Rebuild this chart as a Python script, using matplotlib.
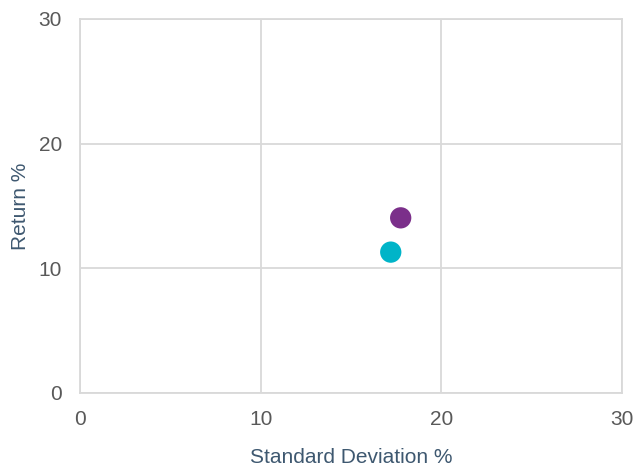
import matplotlib.pyplot as plt

plt.rcParams['font.family'] = ['Liberation Sans', 'DejaVu Sans']

std_dev = [17.75, 17.2]
returns = [14.05, 11.3]
colors = ['#7b2f8a', '#00b4c8']

fig = plt.figure(figsize=(6.36, 4.67), dpi=100)
ax = fig.add_axes([80/636, 1-393/467, 542/636, 374/467])

ax.scatter(std_dev, returns, s=235, c=colors, zorder=3, linewidths=0)

ax.set_xlim(0, 30)
ax.set_ylim(0, 30)
ax.set_xticks([0, 10, 20, 30])
ax.set_yticks([0, 10, 20, 30])
ax.grid(True, color='#d9d9d9', linewidth=1.3)
for s in ax.spines.values():
    s.set_color('#d9d9d9')
    s.set_linewidth(1.3)
ax.tick_params(length=0, labelsize=15, labelcolor='#595959')
ax.tick_params(axis='x', pad=12)
ax.tick_params(axis='y', pad=13)
ax.set_xlabel('Standard Deviation %', fontsize=15, color='#3e5870', labelpad=14)
ax.set_ylabel('Return %', fontsize=15, color='#3e5870', labelpad=6)

fig.savefig('out.png', dpi=100)
